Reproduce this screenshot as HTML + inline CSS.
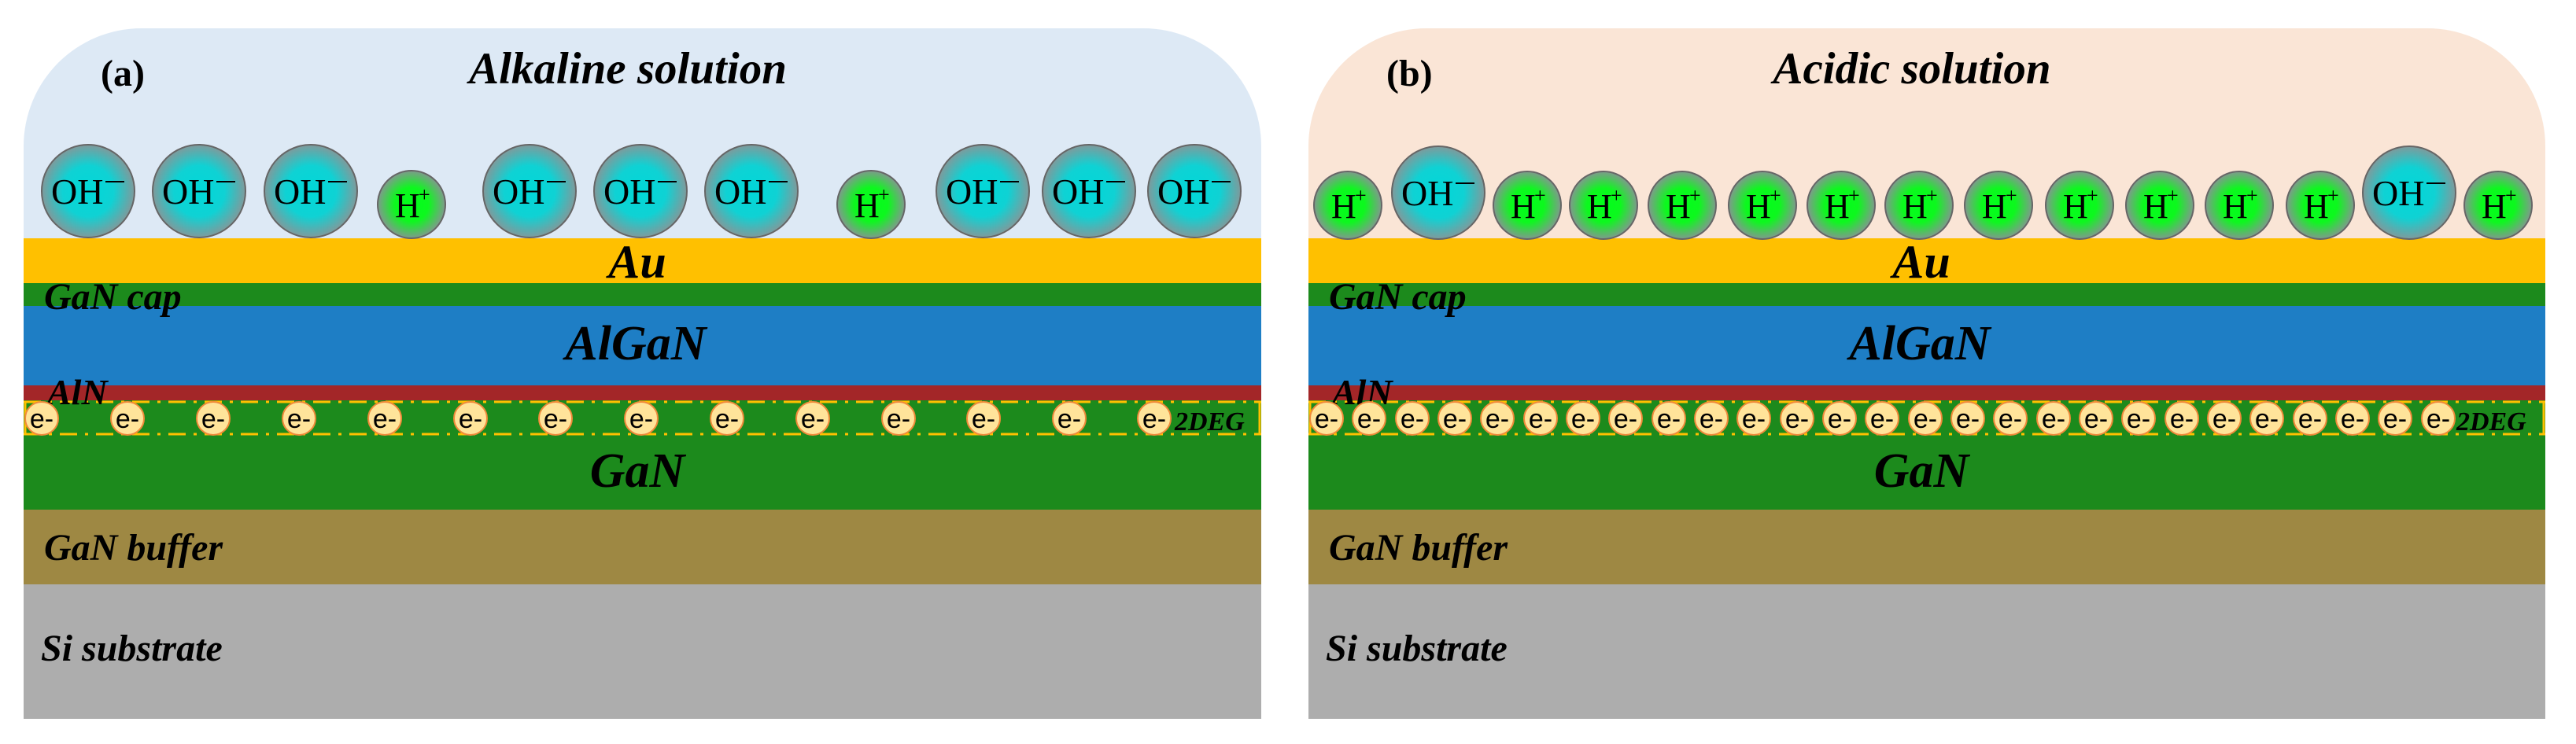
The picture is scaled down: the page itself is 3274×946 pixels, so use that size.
<!DOCTYPE html>
<html><head><meta charset="utf-8"><style>
html,body{margin:0;padding:0;background:#fff;}
svg{display:block;}
.t{font-family:"Liberation Serif",serif;font-weight:bold;font-style:italic;fill:#000;}
.n{font-family:"Liberation Serif",serif;fill:#000;}
.e{font-family:"Liberation Sans",sans-serif;fill:#000;}
</style></head><body>
<svg width="3274" height="946" viewBox="0 0 3274 946" xmlns="http://www.w3.org/2000/svg">
<defs>
<radialGradient id="oh" cx="50%" cy="50%" r="50%"><stop offset="0" stop-color="#00d8d8"/><stop offset="0.55" stop-color="#0fd2d4"/><stop offset="1" stop-color="#7f9a9c"/></radialGradient>
<radialGradient id="hp" cx="50%" cy="50%" r="50%"><stop offset="0" stop-color="#00ff1a"/><stop offset="0.5" stop-color="#0df81e"/><stop offset="1" stop-color="#7f9a8c"/></radialGradient>
<g id="OH">
<circle cx="0" cy="0" r="59" fill="url(#oh)" stroke="#666" stroke-width="2"/>
<text x="-47" y="16" class="n" font-size="46">OH</text>
<line x1="22" y1="-12" x2="46" y2="-12" stroke="#000" stroke-width="2"/>
</g>
<g id="HP">
<circle cx="0" cy="0" r="43" fill="url(#hp)" stroke="#666" stroke-width="2"/>
<text x="-21" y="16" class="n" font-size="44">H</text>
<text x="9" y="-4" class="n" font-size="26">+</text>
</g>
</defs>

<!-- Panel A -->
<path d="M30,186 A150,150 0 0 1 180,36 L1453,36 A150,150 0 0 1 1603,186 L1603,305 L30,305 Z" fill="#dde9f5"/>
<rect x="30" y="303" width="1573" height="58" fill="#ffc000"/>
<rect x="30" y="360" width="1573" height="30" fill="#1c8a1c"/>
<rect x="30" y="389" width="1573" height="103" fill="#1e7ec5"/>
<rect x="30" y="490" width="1573" height="20" fill="#a32628"/>
<rect x="30" y="509" width="1573" height="140" fill="#1c8a1c"/>
<rect x="30" y="648" width="1573" height="96" fill="#9e8843"/>
<rect x="30" y="743" width="1573" height="171" fill="#adadad"/>
<line x1="30" y1="511" x2="1603" y2="511" stroke="#ffc000" stroke-width="3" stroke-dasharray="22,10,4,10"/>
<line x1="30" y1="552" x2="1603" y2="552" stroke="#ffc000" stroke-width="3" stroke-dasharray="22,10,4,10"/>
<line x1="1601" y1="511" x2="1601" y2="552" stroke="#ffc000" stroke-width="3"/>
<line x1="32" y1="511" x2="32" y2="552" stroke="#ffc000" stroke-width="3"/>

<text x="128" y="109" class="n" font-size="48" font-weight="bold">(a)</text>
<text x="798" y="106" class="t" font-size="57" text-anchor="middle">Alkaline solution</text>
<text x="810" y="353" class="t" font-size="60" text-anchor="middle">Au</text>
<text x="56" y="393" class="t" font-size="48">GaN cap</text>
<text x="808" y="457" class="t" font-size="62" text-anchor="middle">AlGaN</text>
<text x="60" y="514" class="t" font-size="46">AlN</text>
<text x="810" y="619" class="t" font-size="62" text-anchor="middle">GaN</text>
<text x="56" y="712" class="t" font-size="48">GaN buffer</text>
<text x="52" y="840" class="t" font-size="48">Si substrate</text>
<text x="1493" y="547" class="t" font-size="34">2DEG</text>

<use href="#OH" x="112" y="243"/>
<use href="#OH" x="253" y="243"/>
<use href="#OH" x="395" y="243"/>
<use href="#HP" x="523" y="260"/>
<use href="#OH" x="673" y="243"/>
<use href="#OH" x="814" y="243"/>
<use href="#OH" x="955" y="243"/>
<use href="#HP" x="1107" y="260"/>
<use href="#OH" x="1249" y="243"/>
<use href="#OH" x="1384" y="243"/>
<use href="#OH" x="1518" y="243"/>

<g fill="#ffe49a" stroke="#f08a3a" stroke-width="2">
<circle cx="53" cy="532" r="21"/><circle cx="162" cy="532" r="21"/><circle cx="271" cy="532" r="21"/><circle cx="380" cy="532" r="21"/><circle cx="489" cy="532" r="21"/><circle cx="598" cy="532" r="21"/><circle cx="706" cy="532" r="21"/><circle cx="815" cy="532" r="21"/><circle cx="924" cy="532" r="21"/><circle cx="1033" cy="532" r="21"/><circle cx="1142" cy="532" r="21"/><circle cx="1250" cy="532" r="21"/><circle cx="1359" cy="532" r="21"/><circle cx="1467" cy="532" r="21"/>
</g>
<g class="e" font-size="34" text-anchor="middle">
<text x="53" y="544">e-</text><text x="162" y="544">e-</text><text x="271" y="544">e-</text><text x="380" y="544">e-</text><text x="489" y="544">e-</text><text x="598" y="544">e-</text><text x="706" y="544">e-</text><text x="815" y="544">e-</text><text x="924" y="544">e-</text><text x="1033" y="544">e-</text><text x="1142" y="544">e-</text><text x="1250" y="544">e-</text><text x="1359" y="544">e-</text><text x="1467" y="544">e-</text>
</g>

<!-- Panel B -->
<path d="M1663,186 A150,150 0 0 1 1813,36 L3085,36 A150,150 0 0 1 3235,186 L3235,305 L1663,305 Z" fill="#fae5d6"/>
<rect x="1663" y="303" width="1572" height="58" fill="#ffc000"/>
<rect x="1663" y="360" width="1572" height="30" fill="#1c8a1c"/>
<rect x="1663" y="389" width="1572" height="103" fill="#1e7ec5"/>
<rect x="1663" y="490" width="1572" height="20" fill="#a32628"/>
<rect x="1663" y="509" width="1572" height="140" fill="#1c8a1c"/>
<rect x="1663" y="648" width="1572" height="96" fill="#9e8843"/>
<rect x="1663" y="743" width="1572" height="171" fill="#adadad"/>
<line x1="1663" y1="511" x2="3235" y2="511" stroke="#ffc000" stroke-width="3" stroke-dasharray="22,10,4,10"/>
<line x1="1663" y1="552" x2="3235" y2="552" stroke="#ffc000" stroke-width="3" stroke-dasharray="22,10,4,10"/>
<line x1="3233" y1="511" x2="3233" y2="552" stroke="#ffc000" stroke-width="3"/>
<line x1="1665" y1="511" x2="1665" y2="552" stroke="#ffc000" stroke-width="3"/>

<text x="1762" y="109" class="n" font-size="48" font-weight="bold">(b)</text>
<text x="2430" y="106" class="t" font-size="57" text-anchor="middle">Acidic solution</text>
<text x="2442" y="353" class="t" font-size="60" text-anchor="middle">Au</text>
<text x="1689" y="393" class="t" font-size="48">GaN cap</text>
<text x="2440" y="457" class="t" font-size="62" text-anchor="middle">AlGaN</text>
<text x="1693" y="514" class="t" font-size="46">AlN</text>
<text x="2442" y="619" class="t" font-size="62" text-anchor="middle">GaN</text>
<text x="1689" y="712" class="t" font-size="48">GaN buffer</text>
<text x="1685" y="840" class="t" font-size="48">Si substrate</text>
<text x="3122" y="547" class="t" font-size="34">2DEG</text>

<use href="#HP" x="1713" y="261"/>
<use href="#OH" x="1828" y="245"/>
<use href="#HP" x="1941" y="261"/>
<use href="#HP" x="2038" y="261"/>
<use href="#HP" x="2138" y="261"/>
<use href="#HP" x="2240" y="261"/>
<use href="#HP" x="2340" y="261"/>
<use href="#HP" x="2439" y="261"/>
<use href="#HP" x="2540" y="261"/>
<use href="#HP" x="2643" y="261"/>
<use href="#HP" x="2745" y="261"/>
<use href="#HP" x="2846" y="261"/>
<use href="#HP" x="2949" y="261"/>
<use href="#OH" x="3062" y="245"/>
<use href="#HP" x="3175" y="261"/>

<g fill="#ffe49a" stroke="#f08a3a" stroke-width="2">
<circle cx="1686" cy="532" r="21"/><circle cx="1740" cy="532" r="21"/><circle cx="1795" cy="532" r="21"/><circle cx="1849" cy="532" r="21"/><circle cx="1903" cy="532" r="21"/><circle cx="1958" cy="532" r="21"/><circle cx="2012" cy="532" r="21"/><circle cx="2066" cy="532" r="21"/><circle cx="2121" cy="532" r="21"/><circle cx="2175" cy="532" r="21"/><circle cx="2229" cy="532" r="21"/><circle cx="2284" cy="532" r="21"/><circle cx="2338" cy="532" r="21"/><circle cx="2392" cy="532" r="21"/><circle cx="2447" cy="532" r="21"/><circle cx="2501" cy="532" r="21"/><circle cx="2555" cy="532" r="21"/><circle cx="2610" cy="532" r="21"/><circle cx="2664" cy="532" r="21"/><circle cx="2718" cy="532" r="21"/><circle cx="2773" cy="532" r="21"/><circle cx="2827" cy="532" r="21"/><circle cx="2881" cy="532" r="21"/><circle cx="2936" cy="532" r="21"/><circle cx="2990" cy="532" r="21"/><circle cx="3044" cy="532" r="21"/><circle cx="3099" cy="532" r="21"/>
</g>
<g class="e" font-size="34" text-anchor="middle">
<text x="1686" y="544">e-</text><text x="1740" y="544">e-</text><text x="1795" y="544">e-</text><text x="1849" y="544">e-</text><text x="1903" y="544">e-</text><text x="1958" y="544">e-</text><text x="2012" y="544">e-</text><text x="2066" y="544">e-</text><text x="2121" y="544">e-</text><text x="2175" y="544">e-</text><text x="2229" y="544">e-</text><text x="2284" y="544">e-</text><text x="2338" y="544">e-</text><text x="2392" y="544">e-</text><text x="2447" y="544">e-</text><text x="2501" y="544">e-</text><text x="2555" y="544">e-</text><text x="2610" y="544">e-</text><text x="2664" y="544">e-</text><text x="2718" y="544">e-</text><text x="2773" y="544">e-</text><text x="2827" y="544">e-</text><text x="2881" y="544">e-</text><text x="2936" y="544">e-</text><text x="2990" y="544">e-</text><text x="3044" y="544">e-</text><text x="3099" y="544">e-</text>
</g>
</svg>
</body></html>
